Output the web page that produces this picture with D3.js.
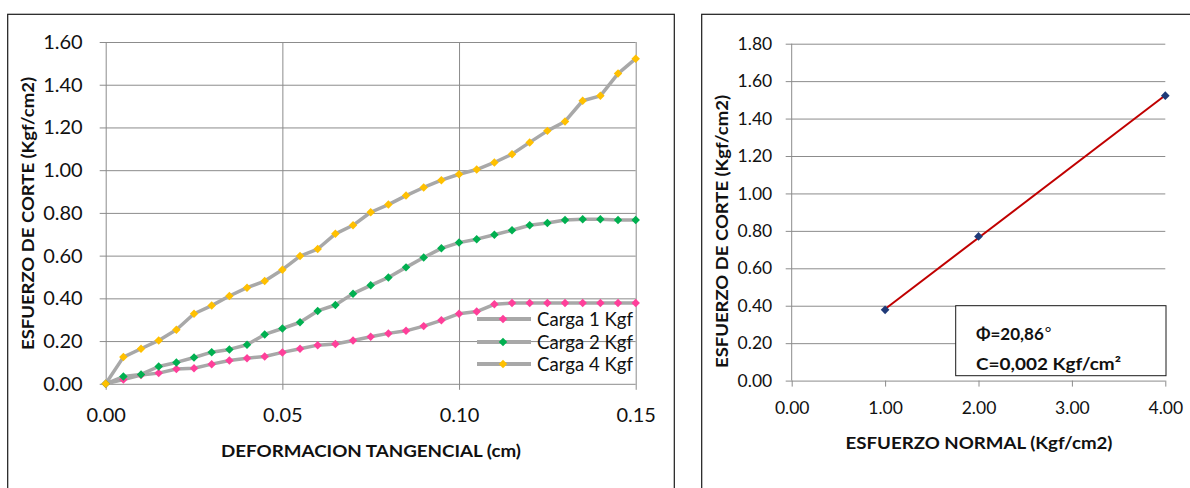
<!DOCTYPE html>
<html>
<head>
<meta charset="utf-8">
<script src="https://cdn.jsdelivr.net/npm/d3@7"></script>
<style>
  html, body { margin: 0; padding: 0; background: #fff; }
  svg { display: block; font-family: Lato, "Open Sans", sans-serif; }
</style>
</head>
<body>
<svg id="chart" width="1190" height="488"></svg>
<script>
// Deformación tangencial (cm)
const deformacion = [0.000, 0.005, 0.010, 0.015, 0.020, 0.025, 0.030, 0.035, 0.040, 0.045,
                     0.050, 0.055, 0.060, 0.065, 0.070, 0.075, 0.080, 0.085, 0.090, 0.095,
                     0.100, 0.105, 0.110, 0.115, 0.120, 0.125, 0.130, 0.135, 0.140, 0.145, 0.150];

// Esfuerzo de corte (Kgf/cm2) por carga
const carga1 = [0.000, 0.020, 0.041, 0.050, 0.069, 0.073, 0.092, 0.109, 0.120, 0.128,
                0.147, 0.164, 0.181, 0.186, 0.203, 0.220, 0.236, 0.248, 0.270, 0.297,
                0.328, 0.338, 0.372, 0.378, 0.378, 0.378, 0.378, 0.378, 0.378, 0.378, 0.378];
const carga2 = [0.000, 0.034, 0.044, 0.081, 0.100, 0.123, 0.148, 0.161, 0.183, 0.231,
                0.259, 0.288, 0.341, 0.369, 0.422, 0.461, 0.498, 0.545, 0.591, 0.634,
                0.661, 0.677, 0.698, 0.719, 0.742, 0.753, 0.767, 0.770, 0.770, 0.767, 0.767];
const carga4 = [0.000, 0.125, 0.164, 0.203, 0.253, 0.328, 0.366, 0.411, 0.450, 0.481,
                0.534, 0.598, 0.631, 0.702, 0.742, 0.803, 0.839, 0.881, 0.919, 0.953,
                0.981, 1.003, 1.036, 1.075, 1.130, 1.184, 1.228, 1.325, 1.348, 1.452, 1.522];

const seriesNames = ["Carga 1 Kgf", "Carga 2 Kgf", "Carga 4 Kgf"];
const seriesColors = ["#FF3F9A", "#00B050", "#FFC000"];

const xTicksLeft = [0, 0.05, 0.10, 0.15];
const yTicksLeft = [0, 0.2, 0.4, 0.6, 0.8, 1.0, 1.2, 1.4, 1.6];

// Envolvente de falla: esfuerzo normal vs esfuerzo de corte máximo
const esfuerzoNormal = [1.00, 2.00, 4.00];
const esfuerzoCorte = [0.378, 0.770, 1.522];
const xTicksRight = [0, 1, 2, 3, 4];
const yTicksRight = [0, 0.2, 0.4, 0.6, 0.8, 1.0, 1.2, 1.4, 1.6, 1.8];

const anguloTexto = "Φ=20,86";
const cohesionTexto = "C=0,002 Kgf/cm²";

const svg = d3.select("#chart");
const GRID = "#8c8c8c";
const fmt2 = d3.format(".2f");

// chart frames
svg.append("rect").attr("x", 7.7).attr("y", 14.3).attr("width", 666.6).attr("height", 500)
  .attr("fill", "none").attr("stroke", "#1a1a1a").attr("stroke-width", 1.2);
svg.append("rect").attr("x", 701.7).attr("y", 14.3).attr("width", 520).attr("height", 500)
  .attr("fill", "none").attr("stroke", "#1a1a1a").attr("stroke-width", 1.2);

const diamond = d3.symbol().type(d3.symbolSquare).size(36);

function styleAxis(g, fontSize) {
  g.select(".domain").remove();
  g.selectAll(".tick line").attr("stroke", GRID).attr("stroke-width", 1);
  g.selectAll(".tick text").attr("fill", "#111").attr("font-size", fontSize)
    .attr("font-family", "Lato, 'Open Sans', sans-serif");
}

function boldTitle(sel, size, len) {
  return sel.attr("text-anchor", "middle").attr("font-size", size).attr("font-weight", 700)
    .attr("fill", "#111").attr("textLength", len).attr("lengthAdjust", "spacingAndGlyphs");
}

// ---------- Left: esfuerzo de corte vs deformación tangencial ----------
{
  const x = d3.scaleLinear().domain([0, 0.15]).range([105.7, 635.7]);
  const y = d3.scaleLinear().domain([0, 1.6]).range([383.8, 42]);
  const tick = 6;

  const gy = svg.append("g").attr("transform", `translate(${x(0) - tick},0)`)
    .call(d3.axisLeft(y).tickValues(yTicksLeft).tickFormat(fmt2)
      .tickSizeInner(-(x(0.15) - x(0) + tick)).tickSizeOuter(0).tickPadding(17));
  styleAxis(gy, 20);

  const gx = svg.append("g").attr("transform", `translate(0,${y(0) + tick})`)
    .call(d3.axisBottom(x).tickValues(xTicksLeft).tickFormat(fmt2)
      .tickSizeInner(-(y(0) - y(1.6) + tick)).tickSizeOuter(0).tickPadding(0));
  styleAxis(gx, 20);
  gx.selectAll(".tick text").attr("y", 18).attr("dy", "0.71em");

  const seriesData = [carga1, carga2, carga4];
  const line = d3.line().x((d, i) => x(deformacion[i])).y(d => y(d));

  seriesData.forEach((vals) => {
    svg.append("path").datum(vals).attr("d", line)
      .attr("fill", "none").attr("stroke", "#A8A8A8").attr("stroke-width", 3.5)
      .attr("stroke-linejoin", "round");
  });
  seriesData.forEach((vals, s) => {
    svg.append("g").selectAll("path").data(vals).join("path")
      .attr("d", diamond)
      .attr("transform", (d, i) => `translate(${x(deformacion[i])},${y(d)}) rotate(45)`)
      .attr("fill", seriesColors[s]);
  });

  // legend
  const legY = [319, 342, 364];
  const leg = svg.append("g");
  seriesNames.forEach((name, i) => {
    leg.append("line").attr("x1", 477).attr("x2", 531).attr("y1", legY[i]).attr("y2", legY[i])
      .attr("stroke", "#A8A8A8").attr("stroke-width", 4);
    leg.append("path").attr("d", diamond)
      .attr("transform", `translate(503,${legY[i]}) rotate(45)`).attr("fill", seriesColors[i]);
    leg.append("text").attr("x", 537).attr("y", legY[i] + 6.5).attr("font-size", 18.5)
      .attr("fill", "#111").attr("textLength", 96).attr("lengthAdjust", "spacingAndGlyphs").text(name);
  });

  boldTitle(svg.append("text").attr("x", 371).attr("y", 456.5), 17, 300)
    .text("DEFORMACION TANGENCIAL (cm)");
  boldTitle(svg.append("text").attr("transform", "translate(33.5,213.5) rotate(-90)"), 17, 273)
    .text("ESFUERZO DE CORTE (Kgf/cm2)");
}

// ---------- Right: envolvente de falla ----------
{
  const x = d3.scaleLinear().domain([0, 4]).range([791.7, 1165.3]);
  const y = d3.scaleLinear().domain([0, 1.8]).range([380.6, 43.7]);
  const tick = 6;

  const gy = svg.append("g").attr("transform", `translate(${x(0) - tick},0)`)
    .call(d3.axisLeft(y).tickValues(yTicksRight).tickFormat(fmt2)
      .tickSizeInner(-(x(4) - x(0) + tick)).tickSizeOuter(0).tickPadding(13.5));
  styleAxis(gy, 17.5);

  svg.append("line").attr("x1", x(0)).attr("x2", x(0)).attr("y1", y(1.8)).attr("y2", y(0))
    .attr("stroke", GRID);

  const gx = svg.append("g").attr("transform", `translate(0,${y(0)})`)
    .call(d3.axisBottom(x).tickValues(xTicksRight).tickFormat(fmt2)
      .tickSizeInner(6).tickSizeOuter(0).tickPadding(0));
  styleAxis(gx, 17.5);
  gx.selectAll(".tick text").attr("y", 21).attr("dy", "0.71em");

  // least-squares trend line through the three failure points
  const mx = d3.mean(esfuerzoNormal), my = d3.mean(esfuerzoCorte);
  const slope = d3.sum(esfuerzoNormal, (v, i) => (v - mx) * (esfuerzoCorte[i] - my)) /
                d3.sum(esfuerzoNormal, v => (v - mx) * (v - mx));
  const intercept = my - slope * mx;
  const xs = d3.extent(esfuerzoNormal);
  svg.append("line")
    .attr("x1", x(xs[0])).attr("y1", y(intercept + slope * xs[0]))
    .attr("x2", x(xs[1])).attr("y2", y(intercept + slope * xs[1]))
    .attr("stroke", "#C00000").attr("stroke-width", 2);

  svg.append("g").selectAll("path").data(esfuerzoNormal).join("path")
    .attr("d", d3.symbol().type(d3.symbolSquare).size(38))
    .attr("transform", (d, i) => `translate(${x(d)},${y(esfuerzoCorte[i])}) rotate(45)`)
    .attr("fill", "#1F3A78");

  // parameter box
  svg.append("rect").attr("x", 955.7).attr("y", 305.7).attr("width", 210.3).attr("height", 70)
    .attr("fill", "#fff").attr("stroke", "#1a1a1a").attr("stroke-width", 1);
  const t1 = svg.append("text").attr("x", 976).attr("y", 339.5).attr("font-size", 17)
    .attr("font-weight", 700).attr("fill", "#111");
  t1.append("tspan").text(anguloTexto);
  t1.append("tspan").attr("font-weight", 400).attr("font-size", 16).attr("dy", -2).attr("dx", 1).text("°");
  svg.append("text").attr("x", 976).attr("y", 369.5).attr("font-size", 17).attr("font-weight", 700)
    .attr("fill", "#111").attr("textLength", 145).attr("lengthAdjust", "spacingAndGlyphs")
    .text(cohesionTexto);

  boldTitle(svg.append("text").attr("x", 979).attr("y", 448.5), 17, 267)
    .text("ESFUERZO NORMAL (Kgf/cm2)");
  boldTitle(svg.append("text").attr("transform", "translate(727.5,231.5) rotate(-90)"), 17, 273)
    .text("ESFUERZO DE CORTE (Kgf/cm2)");
}
</script>
</body>
</html>
